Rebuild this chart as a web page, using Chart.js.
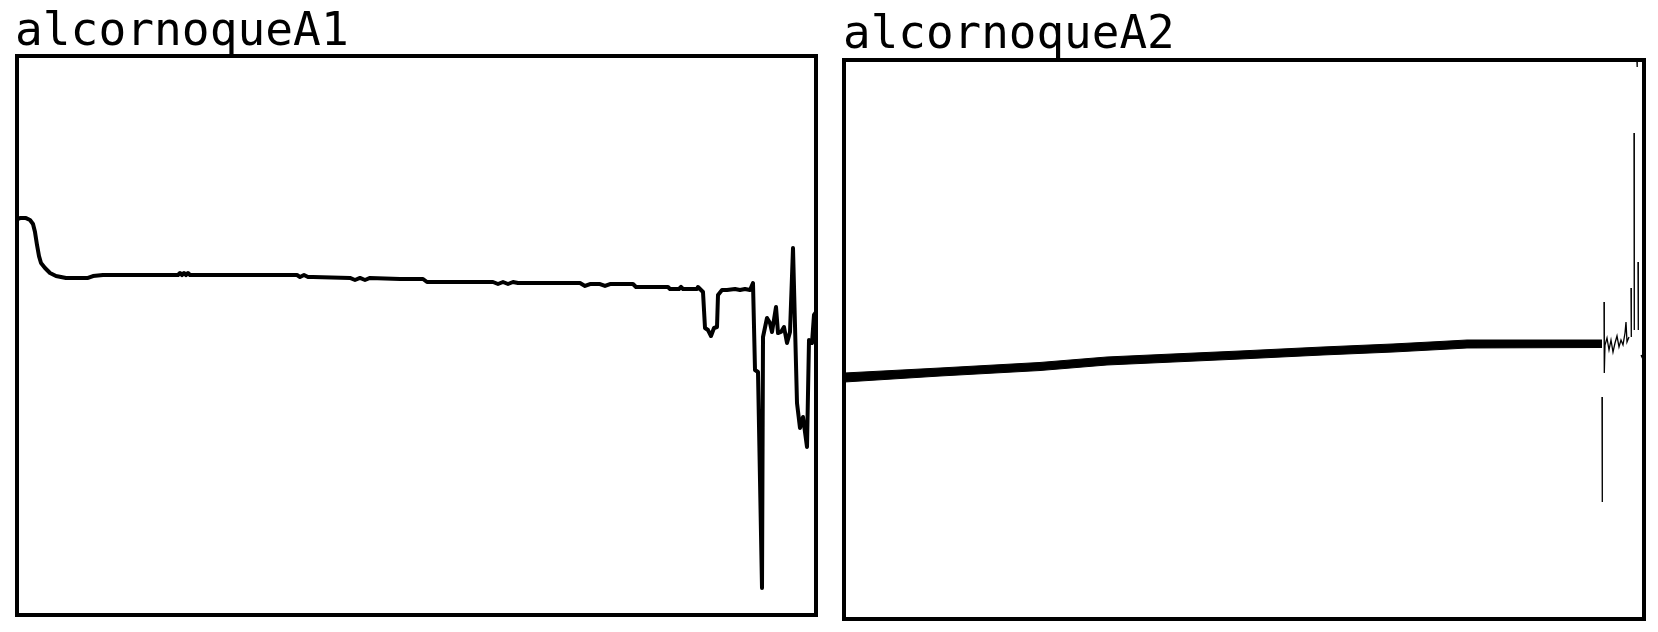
<!DOCTYPE html>
<html>
<head>
<meta charset="utf-8">
<script src="https://cdn.jsdelivr.net/npm/chart.js@4/dist/chart.umd.min.js"></script>
<style>
  html, body { margin: 0; padding: 0; background: #fff; }
  body { width: 1658px; height: 632px; position: relative; overflow: hidden; }
  canvas { position: absolute; top: 0; }
  .ttl {
    position: absolute; font-family: "DejaVu Sans Mono", monospace;
    line-height: normal; color: #000; white-space: nowrap;
    transform-origin: 0 0; z-index: 2;
  }
</style>
</head>
<body>
<div class="ttl" id="t1"></div>
<div class="ttl" id="t2"></div>
<canvas id="c1" width="829" height="632" style="left:0px"></canvas>
<canvas id="c2" width="829" height="632" style="left:829px"></canvas>
<script>
// ---------- Panel titles ----------
const panelTitles = ["alcornoqueA1", "alcornoqueA2"];

// ---------- Panel A1: sample index and signal value ----------
const a1X = [0.5, 1.5, 4.5, 6.5, 8, 9, 10, 11, 12, 14, 16.5, 19.5, 24.5, 35.5, 38, 43,
  80.5, 81.5, 82.5, 83.5, 84.5, 85.5, 86.5, 140, 141.5, 143.5, 145.5, 148,
  166.5, 169, 171.5, 174, 176.5, 191.5, 203, 205, 238, 240.5, 243, 245.5, 248, 250.5,
  281.5, 284, 286.5, 291.5, 294, 296.5, 301.5, 308, 309.5, 325.5, 326.5, 331, 332, 333,
  340, 340.5, 343, 344, 345.5, 347, 348.5, 350, 350.5, 352.5, 355, 359, 361.5, 364, 366.5,
  368, 369, 370.5, 372.5, 373, 375, 376.5, 377.5, 379.5, 380.5, 382, 383.5, 385, 386.5,
  388, 390, 391.5, 393, 395, 396, 397.5, 398.5, 399.5];
const a1Y = [70.84, 71.0, 71.0, 70.66, 69.95, 68.5, 66.2, 64.2, 62.97, 62.08, 61.18, 60.64, 60.29, 60.29, 60.64, 60.82,
  60.82, 61.18, 60.82, 61.18, 60.82, 61.18, 60.82, 60.82, 60.47, 60.82, 60.47, 60.47,
  60.29, 59.93, 60.29, 59.93, 60.29, 60.11, 60.11, 59.57, 59.57, 59.21, 59.57, 59.21, 59.57, 59.39,
  59.39, 58.86, 59.21, 59.21, 58.86, 59.21, 59.21, 59.21, 58.68, 58.68, 58.32, 58.32, 58.68, 58.32,
  58.32, 58.68, 57.78, 51.34, 50.98, 49.91, 51.34, 51.52, 57.25, 58.14, 58.14, 58.32, 58.14, 58.32, 58.14,
  59.39, 43.83, 43.47, 4.83, 49.73, 53.13, 52.24, 50.63, 55.1, 50.45, 50.63, 51.52, 48.66, 50.63,
  65.65, 37.92, 33.45, 35.42, 30.05, 49.2, 48.66, 53.67, 54.2];

// ---------- Panel A2: dense band (upper / lower envelope) ----------
const a2BandX = [1, 96, 196, 263, 329, 396, 479, 549, 596, 623, 758];
const a2Upper = [44.01, 44.90, 45.89, 46.87, 47.41, 47.94, 48.66, 49.20, 49.64, 49.91, 49.91];
const a2Lower = [42.40, 43.47, 44.45, 45.44, 45.97, 46.51, 47.23, 47.76, 48.21, 48.48, 48.57];

// ---------- Panel A2: trailing spikes (null = break) ----------
const a2SpikeX = [758, 758.3, 758.6, 760, 760.3, 761, 763, 765, 767, 769, 771, 773, 775, 777, 779, 781, 782, 783, 785,
  786, 787, 787.3, 787.6, 790, 790.3, 790.6, 793, 793.2, 793.4, 794, 794.3, 794.6, 797, 797.6];
const a2SpikeY = [39.71, 20.93, null, 56.71, 44.01, 49.02, 50.27, 48.12, 49.91, 47.76, 49.37, 50.63, 48.66, 49.91, 49.02, 51.16, 53.13, 49.55, 50.45,
  null, 59.21, 50.45, null, 86.94, 51.7, null, 99.64, 98.75, null, 63.86, 51.7, null, 47.23, 47.0];

const zip = (xs, ys) => xs.map((x, i) => ({ x: x, y: ys[i] }));

// ---------- titles: fit ink box ----------
function placeTitle(el, text, fs, inkLeft, inkRight, baseline) {
  const mc = document.createElement('canvas').getContext('2d');
  mc.font = fs + 'px "DejaVu Sans Mono"';
  const m = mc.measureText(text);
  const inkW = m.actualBoundingBoxRight + m.actualBoundingBoxLeft;
  const s = (inkRight - inkLeft) / inkW;
  el.textContent = text;
  el.style.fontSize = fs + 'px';
  el.style.transform = 'scaleX(' + s.toFixed(4) + ')';
  el.style.left = (inkLeft - (-m.actualBoundingBoxLeft) * s) + 'px';
  const asc = m.fontBoundingBoxAscent, desc = m.fontBoundingBoxDescent;
  const half = (el.offsetHeight - (asc + desc)) / 2;
  el.style.top = (baseline - asc - half) + 'px';
}
placeTitle(document.getElementById('t1'), panelTitles[0], 46, 17, 346, 44.5);
placeTitle(document.getElementById('t2'), panelTitles[1], 46, 845, 1171, 47.5);

const framePlugin = {
  id: 'frame',
  afterDraw(chart) {
    const a = chart.chartArea, ctx = chart.ctx;
    ctx.save();
    ctx.lineWidth = 4;
    ctx.strokeStyle = '#000';
    ctx.lineJoin = 'miter';
    ctx.strokeRect(a.left, a.top, a.right - a.left, a.bottom - a.top);
    ctx.restore();
  }
};

function hiddenScales(xmin, xmax, ymin, ymax) {
  return {
    x: { type: 'linear', min: xmin, max: xmax, display: false },
    y: { type: 'linear', min: ymin, max: ymax, display: false }
  };
}
const common = {
  responsive: false, animation: false, devicePixelRatio: 1, events: [],
  plugins: { legend: { display: false }, tooltip: { enabled: false }, title: { display: false } }
};

new Chart(document.getElementById('c1'), {
  type: 'line',
  data: { datasets: [{
    data: zip(a1X, a1Y), borderColor: '#000', borderWidth: 4, pointRadius: 0,
    tension: 0, borderJoinStyle: 'round', borderCapStyle: 'round', fill: false
  }]},
  options: Object.assign({}, common, {
    layout: { padding: { left: 17, right: 13, top: 56, bottom: 17 } },
    scales: hiddenScales(0, 399.5, 0, 100)
  }),
  plugins: [framePlugin]
});

new Chart(document.getElementById('c2'), {
  type: 'line',
  data: { datasets: [
    { data: zip(a2BandX, a2Upper), borderColor: '#000', borderWidth: 1, pointRadius: 0, tension: 0,
      fill: '+1', backgroundColor: '#000' },
    { data: zip(a2BandX, a2Lower), borderColor: '#000', borderWidth: 1, pointRadius: 0, tension: 0, fill: false },
    { data: zip(a2SpikeX, a2SpikeY), borderColor: '#000', borderWidth: 1.3, pointRadius: 0, tension: 0,
      spanGaps: false, fill: false }
  ]},
  options: Object.assign({}, common, {
    layout: { padding: { left: 15, right: 14, top: 60, bottom: 13 } },
    scales: hiddenScales(0, 800, 0, 100)
  }),
  plugins: [framePlugin]
});
</script>
</body>
</html>
